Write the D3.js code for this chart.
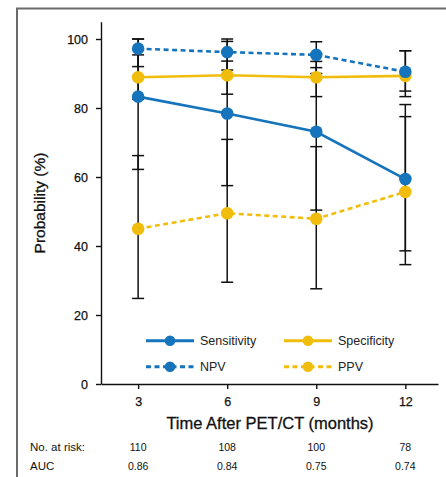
<!DOCTYPE html>
<html>
<head>
<meta charset="utf-8">
<script src="https://cdn.jsdelivr.net/npm/d3@7"></script>
<style>
  body { margin: 0; background: #fff; }
  svg { display: block; font-family: "Liberation Sans", Arial, sans-serif; }
</style>
</head>
<body>
<figure style="margin:0"></figure>
<script>
// values
const months = [3, 6, 9, 12];
const sensitivity = [83.3, 78.4, 73.1, 59.4];
const specificity = [88.9, 89.5, 88.9, 89.3];
const npv = [97.2, 96.2, 95.4, 90.5];
const ppv = [45.0, 49.5, 47.9, 55.7];

// 95% CI ends
const sensLo = [62.2, 57.5, 50.4, 38.6], sensHi = [95.4, 93.6, 91.7, 81.0];
const specLo = [82.5, 84.0, 83.3, 84.9], specHi = [100, 99.3, 93.5, 96.6];
const npvLo = [92.0, 91.0, 90.0, 83.3], npvHi = [100, 100, 99.2, 96.6];
const ppvLo = [24.8, 29.5, 27.6, 34.6], ppvHi = [66.2, 70.9, 68.8, 77.5];

const atRisk = [110, 108, 100, 78];
const auc = ["0.86", "0.84", "0.75", "0.74"];
const yTicks = [0, 20, 40, 60, 80, 100];

function buildChart(){
    const width = 446, height = 477;
    const blue = "#1574bb", yellow = "#f1bd0c";

    const svg = d3.select("figure")
        .append("svg")
        .attr("width", width)
        .attr("height", height);

    // frame round the figure (top and left only are visible)
    svg.append("path")
        .attr("d", "M17,477 V8.5 H446")
        .attr("fill", "none")
        .attr("stroke", "#6b6b6b")
        .attr("stroke-width", 2);

    const xScale = d3.scaleLinear().domain([1.75, 13.1]).range([101, 438]);
    const yScale = d3.scaleLinear().domain([0, 105]).range([384, 21.75]);

    const series = [
        {name: "Sensitivity", vals: sensitivity, lo: sensLo, hi: sensHi, color: blue, dash: null},
        {name: "Specificity", vals: specificity, lo: specLo, hi: specHi, color: yellow, dash: null},
        {name: "NPV", vals: npv, lo: npvLo, hi: npvHi, color: blue, dash: "5,3.5"},
        {name: "PPV", vals: ppv, lo: ppvLo, hi: ppvHi, color: yellow, dash: "5,3.5"}
    ];

    // axes
    const yAxis = svg.append("g")
        .attr("transform", "translate(" + xScale.range()[0] + ",0)")
        .call(d3.axisLeft(yScale).tickValues(yTicks).tickSize(5).tickSizeOuter(0).tickPadding(8));
    const xAxis = svg.append("g")
        .attr("transform", "translate(0," + yScale(0) + ")")
        .call(d3.axisBottom(xScale).tickValues(months).tickSize(5).tickSizeOuter(0).tickPadding(8));
    [xAxis, yAxis].forEach(a => {
        a.selectAll("path, line").attr("stroke", "#111").attr("stroke-width", 1.4);
        a.selectAll("text").attr("fill", "#111").style("font-size", "12.5px")
            .attr("stroke", "#111").attr("stroke-width", 0.25);
    });

    // error bars go under the lines
    const bars = svg.append("g").attr("stroke", "#111").attr("stroke-width", 1.5);
    series.forEach(s => {
        months.forEach((m, i) => {
            const x = xScale(m);
            bars.append("line")
                .attr("x1", x).attr("x2", x)
                .attr("y1", yScale(s.lo[i])).attr("y2", yScale(s.hi[i]));
            [s.lo[i], s.hi[i]].forEach(v => {
                bars.append("line")
                    .attr("x1", x - 6).attr("x2", x + 6)
                    .attr("y1", yScale(v)).attr("y2", yScale(v));
            });
        });
    });

    const line = d3.line().x((d, i) => xScale(months[i])).y(d => yScale(d));

    // yellow ones first, blue on top
    [series[3], series[1], series[2], series[0]].forEach(s => {
        svg.append("path")
            .datum(s.vals)
            .attr("d", line)
            .attr("fill", "none")
            .attr("stroke", s.color)
            .attr("stroke-width", 2.6)
            .attr("stroke-dasharray", s.dash);
        svg.selectAll(null)
            .data(s.vals)
            .enter()
            .append("circle")
            .attr("cx", (d, i) => xScale(months[i]))
            .attr("cy", d => yScale(d))
            .attr("r", 6.3)
            .attr("fill", s.color);
    });

    // legend
    const legend = svg.append("g");
    series.forEach((s, i) => {
        const col = i % 2, row = Math.floor(i / 2);
        const g = legend.append("g")
            .attr("transform", "translate(" + (146 + col * 138) + "," + (340.7 + row * 26) + ")");
        g.append("line")
            .attr("x1", 0).attr("x2", 48)
            .attr("stroke", s.color)
            .attr("stroke-width", 3)
            .attr("stroke-dasharray", s.dash);
        g.append("circle").attr("cx", 24).attr("r", 5.3).attr("fill", s.color);
        g.append("text")
            .attr("x", 54).attr("dy", "0.35em")
            .style("font-size", "12.5px")
            .attr("fill", "#222")
            .text(s.name);
    });

    // axis titles
    svg.append("text")
        .attr("x", 270).attr("y", 429)
        .attr("text-anchor", "middle")
        .style("font-size", "16.5px")
        .attr("fill", "#111")
        .attr("stroke", "#111").attr("stroke-width", 0.3)
        .text("Time After PET/CT (months)");
    svg.append("text")
        .attr("transform", "translate(45,203) rotate(-90)")
        .attr("text-anchor", "middle")
        .style("font-size", "15.5px")
        .attr("fill", "#111")
        .attr("stroke", "#111").attr("stroke-width", 0.3)
        .text("Probability (%)");

    // table under the axis
    const rows = [
        {label: "No. at risk:", vals: atRisk, y: 451},
        {label: "AUC", vals: auc, y: 470}
    ];
    rows.forEach(r => {
        svg.append("text")
            .attr("x", 30).attr("y", r.y)
            .style("font-size", "11.5px")
            .attr("fill", "#111")
            .text(r.label);
        svg.selectAll(null)
            .data(r.vals)
            .enter()
            .append("text")
            .attr("x", (d, i) => xScale(months[i]))
            .attr("y", r.y)
            .attr("text-anchor", "middle")
            .style("font-size", "10.5px")
            .attr("fill", "#111")
            .text(d => d);
    });
}

buildChart();
</script>
</body>
</html>
